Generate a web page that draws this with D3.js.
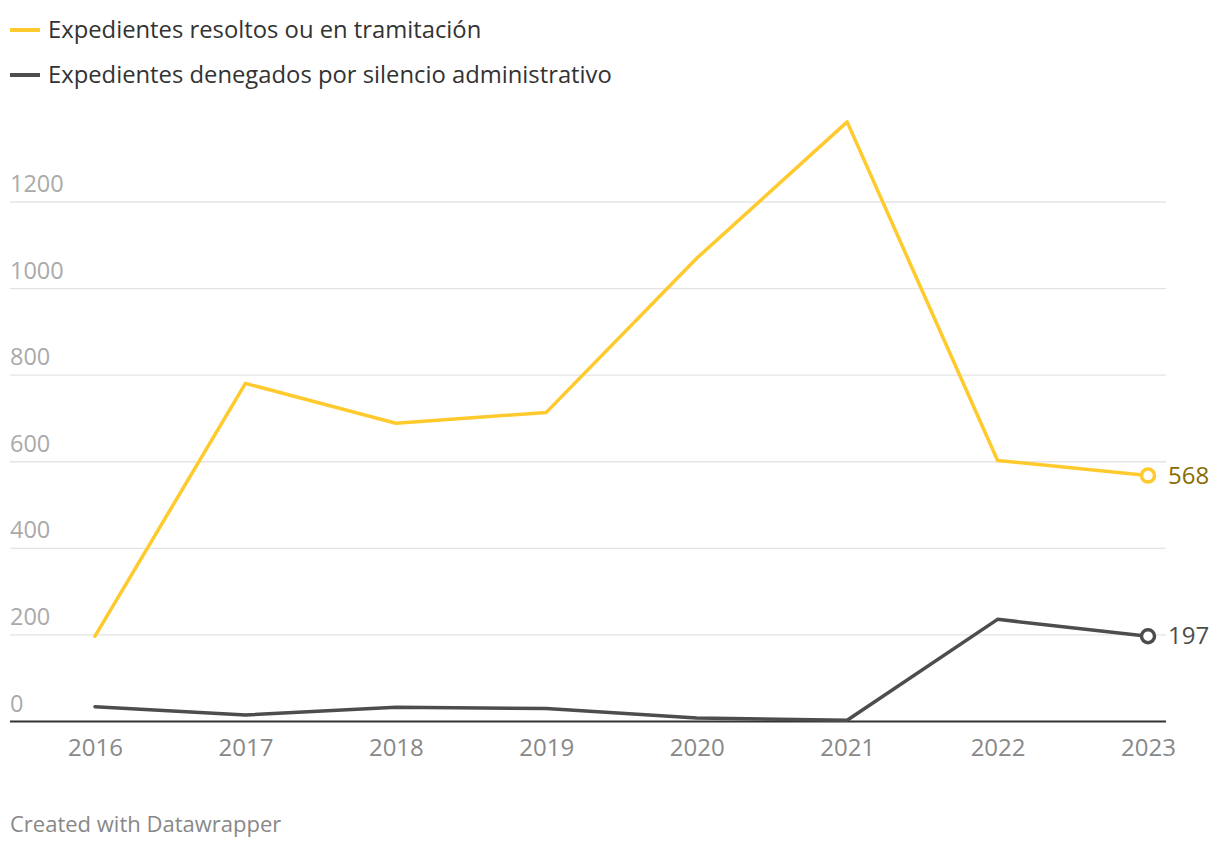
<!DOCTYPE html>
<html><head><meta charset="utf-8">
<script src="https://cdn.jsdelivr.net/npm/d3@7"></script>
<style>
body{margin:0;background:#fff;font-family:"Open Sans",sans-serif;}
</style></head>
<body>
<svg id="chart" width="1220" height="848"></svg>
<script>
const years = ["2016","2017","2018","2019","2020","2021","2022","2023"];
const resolved = [197, 781, 689, 714, 1070, 1385, 603, 568];
const denied = [34, 15, 33, 30, 8, 3, 236, 197];
const yTicks = [0, 200, 400, 600, 800, 1000, 1200];
const seriesNames = ["Expedientes resoltos ou en tramitación", "Expedientes denegados por silencio administrativo"];
const seriesColors = ["#ffca2e", "#4d4d4d"];
const labelColors = ["#8a6b00", "#4d4d4d"];

const svg = d3.select("#chart");
const x = d3.scalePoint().domain(years).range([95, 1148]);
const y = d3.scaleLinear().domain([0, 1200]).range([721.5, 202]);

// legend
seriesNames.forEach((n, i) => {
  const ly = 30 + i * 45;
  svg.append("line").attr("x1", 10).attr("x2", 40).attr("y1", ly).attr("y2", ly)
    .attr("stroke", seriesColors[i]).attr("stroke-width", 4);
  svg.append("text").attr("x", 48).attr("y", ly + 8).text(n)
    .attr("font-size", 23.8).attr("fill", "#333");
});

// grid
const g = svg.append("g");
yTicks.forEach(t => {
  if (t !== 0) g.append("line").attr("x1", 10).attr("x2", 1166)
    .attr("y1", y(t)).attr("y2", y(t)).attr("stroke", "#e4e4e4").attr("stroke-width", 1.3);
  g.append("text").attr("x", 10).attr("y", y(t) - 10).text(t)
    .attr("font-size", 23.5).attr("fill", "#aaa");
});
g.append("line").attr("x1", 10).attr("x2", 1166).attr("y1", y(0)).attr("y2", y(0))
  .attr("stroke", "#333").attr("stroke-width", 2);

// x axis
const xAxis = svg.append("g").attr("transform", `translate(0,${y(0)})`)
  .call(d3.axisBottom(x).tickSize(0).tickPadding(17));
xAxis.select(".domain").remove();
xAxis.selectAll("text").attr("font-size", 24).attr("fill", "#888").attr("font-family", "Open Sans");

// lines
const line = d3.line().x((d, i) => x(years[i])).y(d => y(d));
[resolved, denied].forEach((s, i) => {
  svg.append("path").datum(s).attr("d", line).attr("fill", "none")
    .attr("stroke", seriesColors[i]).attr("stroke-width", 3.5)
    .attr("stroke-linejoin", "round").attr("stroke-linecap", "round");
  const last = s[s.length - 1];
  svg.append("circle").attr("cx", x(years[years.length - 1])).attr("cy", y(last)).attr("r", 6.5)
    .attr("fill", "#fff").attr("stroke", seriesColors[i]).attr("stroke-width", 3.5);
  svg.append("text").attr("x", 1168).attr("y", y(last) + 8).text(last)
    .attr("font-size", 24).attr("fill", labelColors[i]);
});

// footer
svg.append("text").attr("x", 10).attr("y", 832).text("Created with Datawrapper")
  .attr("font-size", 22).attr("fill", "#888");
</script>
</body></html>
